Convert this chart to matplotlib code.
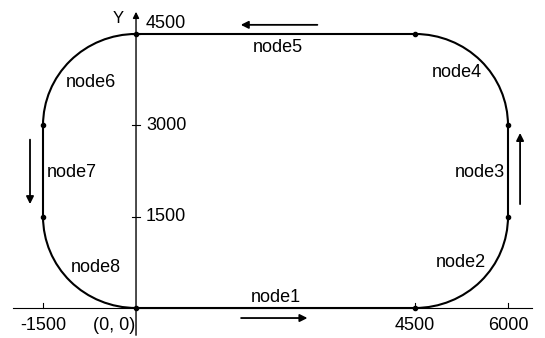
import matplotlib
matplotlib.use("Agg")
import matplotlib.pyplot as plt
from matplotlib.patches import Arc

plt.rcParams['font.family'] = ['Liberation Sans', 'DejaVu Sans']

# Track corners (start point of each node, going anticlockwise)
corner_x = [0, 4500, 6000, 6000, 4500, 0, -1500, -1500]
corner_y = [0, 0, 1500, 3000, 4500, 4500, 3000, 1500]
radius = 1500

# Node labels and where they sit
nodes = ['node1', 'node2', 'node3', 'node4', 'node5', 'node6', 'node7', 'node8']
label_x = [2260, 5240, 5550, 5180, 2290, -730, -1030, -650]
label_y = [180, 740, 2220, 3860, 4270, 3710, 2220, 660]

# Axis tick labels
xticks = [-1500, 4500, 6000]
yticks = [1500, 3000, 4500]

# Direction arrows (start -> end)
arrows = [((1650, -165), (2810, -165)),
          ((6195, 1660), (6195, 2920)),
          ((2970, 4650), (1645, 4650)),
          ((-1710, 2810), (-1710, 1660))]

fig = plt.figure(figsize=(5.45, 3.38), dpi=100)
ax = fig.add_axes([0, 0, 1, 1])
ax.set_xlim(-2194, 6597)
ax.set_ylim(-493, 5058)
ax.set_axis_off()

# coordinate axes
ax.plot([-1984, 6387], [0, 0], color='black', lw=0.8)
ax.annotate('', xy=(0, 4910), xytext=(0, -493),
            arrowprops=dict(arrowstyle='-|>', color='black', lw=1.0, mutation_scale=9))
ax.text(-290, 4760, 'Y', fontsize=12, ha='center', va='center')

# straight parts of the track
for i in [0, 2, 4, 6]:
    j = (i + 1) % 8
    ax.plot([corner_x[i], corner_x[j]], [corner_y[i], corner_y[j]], color='black', lw=1.5)

# curved parts of the track
arc_centers = [(4500, 1500), (4500, 3000), (0, 3000), (0, 1500)]
arc_angles = [(270, 360), (0, 90), (90, 180), (180, 270)]
for c, (t1, t2) in zip(arc_centers, arc_angles):
    ax.add_patch(Arc(c, 2 * radius, 2 * radius, theta1=t1, theta2=t2, color='black', lw=1.5))

ax.plot(corner_x, corner_y, 'o', color='black', ms=3)

for name, x, y in zip(nodes, label_x, label_y):
    ax.text(x, y, name, fontsize=13, ha='center', va='center')

# tick labels
for v in yticks:
    ax.plot([-60, 60], [v, v], color='black', lw=0.8)
    ax.text(160, v + (40 if v == 4500 else 0), str(v), fontsize=13, ha='left',
            va='bottom' if v == 4500 else 'center')
for v in xticks:
    ax.plot([v, v], [0, 80], color='black', lw=0.8)
    ax.text(v, -280, str(v), fontsize=13, ha='center', va='center')
ax.text(-20, -280, '(0, 0)', fontsize=13, ha='right', va='center')

for start, end in arrows:
    ax.annotate('', xy=end, xytext=start,
                arrowprops=dict(arrowstyle='-|>', color='black', lw=1.3, mutation_scale=11))

fig.savefig('out.png', dpi=100)
